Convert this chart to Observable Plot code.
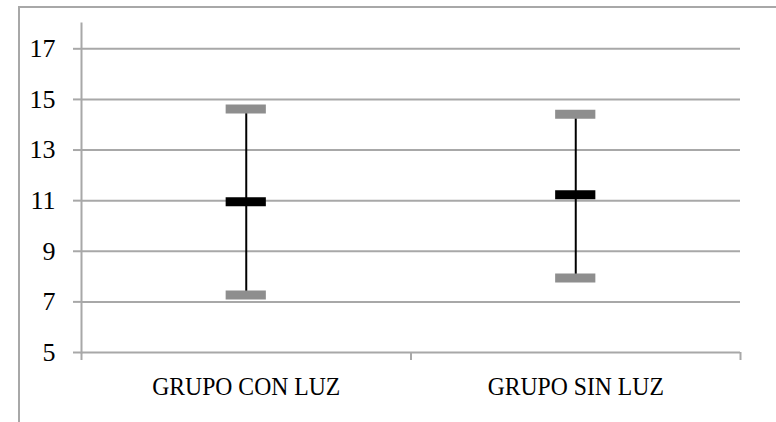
<!DOCTYPE html>
<html>
<head>
<meta charset="utf-8">
<script src="https://cdn.jsdelivr.net/npm/d3@7"></script>
<script src="https://cdn.jsdelivr.net/npm/@observablehq/plot@0.6"></script>
<style>
  html, body { margin: 0; padding: 0; background: #fff; }
  #wrap { position: relative; width: 776px; height: 422px; overflow: hidden; }
  #border { position: absolute; left: 18px; top: 6px; width: 900px; height: 600px;
            border-top: 2px solid #a8a8a8; border-left: 2px solid #a8a8a8; }
  #chart { position: absolute; left: 0; top: 0; }
  g[aria-label="caps"] line, g[aria-label="means"] line {
    filter: drop-shadow(0px 2px 1.5px rgba(0,0,0,0.30));
  }
</style>
</head>
<body>
<div id="wrap"><div id="border"></div><div id="chart"></div></div>
<script>
const categories = ["GRUPO CON LUZ", "GRUPO SIN LUZ"];
const meanValues = [10.96, 11.23];
const maxValues = [14.62, 14.41];
const minValues = [7.27, 7.94];
const yTicks = [5, 7, 9, 11, 13, 15, 17];

const capHalf = 0.061; // half cap width, in category units

const data = categories.map((c, i) => ({
  cat: c, pos: i + 0.5, mean: meanValues[i], max: maxValues[i], min: minValues[i]
}));

const font = "'Liberation Serif', 'Times New Roman', serif";
const gridColor = "#a8a8a8";

const chart = Plot.plot({
  width: 776,
  height: 422,
  marginLeft: 81,
  marginRight: 36,
  marginTop: 23,
  marginBottom: 70,
  style: { fontFamily: font, fontSize: "26px", background: "transparent", overflow: "visible" },
  x: { domain: [0, categories.length], axis: null },
  y: { domain: [5, 18], axis: null },
  marks: [
    Plot.ruleY(yTicks, { stroke: gridColor, strokeWidth: 2 }),
    Plot.frame({ anchor: "left", stroke: gridColor, strokeWidth: 2 }),
    Plot.axisY({ ticks: yTicks, tickSize: 8, tickPadding: 18, stroke: gridColor, strokeWidth: 2,
                 fill: "black", fontSize: 26, label: null, strokeOpacity: 1 }),
    Plot.axisX({ ticks: d3.range(categories.length + 1), tickSize: 8, tickFormat: () => "",
                 stroke: gridColor, strokeWidth: 2, strokeOpacity: 1, label: null }),
    Plot.axisX({ ticks: data.map(d => d.pos), tickSize: 0, tickPadding: 24,
                 tickFormat: (v) => categories[Math.floor(v)], fill: "black", fontSize: 26,
                 label: null }),
    Plot.ruleX(data, { x: "pos", y1: "min", y2: "max", stroke: "black", strokeWidth: 2 }),
    Plot.ruleY(data.flatMap(d => [{ ...d, v: d.max }, { ...d, v: d.min }]), {
      x1: d => d.pos - capHalf, x2: d => d.pos + capHalf, y: "v",
      stroke: "#8e8e8e", strokeWidth: 9, ariaLabel: "caps"
    }),
    Plot.ruleY(data, {
      x1: d => d.pos - capHalf, x2: d => d.pos + capHalf, y: "mean",
      stroke: "black", strokeWidth: 9, ariaLabel: "means"
    })
  ]
});
document.getElementById("chart").appendChild(chart);
// narrow the category labels slightly, like the condensed original face
d3.select(chart).selectAll("text").each(function () {
  if (!categories.includes(this.textContent)) return;
  const len = this.getComputedTextLength();
  this.setAttribute("textLength", (len * 0.91).toFixed(1));
  this.setAttribute("lengthAdjust", "spacingAndGlyphs");
});
</script>
</body>
</html>
